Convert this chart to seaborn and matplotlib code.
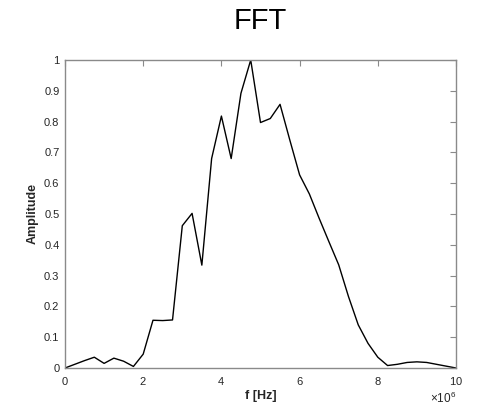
import matplotlib
matplotlib.use("Agg")
import matplotlib.pyplot as plt
import seaborn as sns
import pandas as pd
import numpy as np
from matplotlib.ticker import ScalarFormatter

freq_mhz = [0.0, 0.25, 0.5, 0.75, 1.0, 1.25, 1.5, 1.75, 2.0, 2.25, 2.5, 2.75,
            3.0, 3.25, 3.5, 3.75, 4.0, 4.25, 4.5, 4.75, 5.0, 5.25, 5.5, 5.75,
            6.0, 6.25, 6.5, 6.75, 7.0, 7.25, 7.5, 7.75, 8.0, 8.25, 8.5, 8.75,
            9.0, 9.25, 9.5, 9.75, 10.0]
amplitude = [0.0, 0.012, 0.024, 0.035, 0.015, 0.032, 0.022, 0.005, 0.045, 0.155, 0.154, 0.156,
             0.462, 0.502, 0.334, 0.68, 0.818, 0.68, 0.892, 1.0, 0.797, 0.81, 0.856, 0.74,
             0.627, 0.565, 0.486, 0.41, 0.335, 0.232, 0.14, 0.08, 0.035, 0.008, 0.012, 0.018,
             0.02, 0.018, 0.012, 0.006, 0.0]
x_ticks = [0, 2e6, 4e6, 6e6, 8e6, 10e6]
y_ticks = [0, 0.1, 0.2, 0.3, 0.4, 0.5, 0.6, 0.7, 0.8, 0.9, 1]
y_tick_labels = ["0", "0.1", "0.2", "0.3", "0.4", "0.5", "0.6", "0.7", "0.8", "0.9", "1"]

df = pd.DataFrame({"f": np.array(freq_mhz) * 1e6, "A": amplitude})

sns.set_style("white")
plt.rcParams["font.family"] = ["Liberation Sans", "DejaVu Sans"]
plt.rcParams["mathtext.fontset"] = "custom"
plt.rcParams["mathtext.rm"] = "Liberation Sans"
plt.rcParams["mathtext.it"] = "Liberation Sans"

fig = plt.figure(figsize=(4.79, 4.08), dpi=100)
ax = fig.add_axes([65/479, 1 - 368/408, (456-65)/479, (368-60)/408])
sns.lineplot(data=df, x="f", y="A", ax=ax, color="black", linewidth=1.0)

ax.set_xlim(0, 10e6)
ax.set_ylim(0, 1)
ax.set_xticks(x_ticks)
ax.set_yticks(y_ticks)
ax.set_yticklabels(y_tick_labels)
fmt = ScalarFormatter(useMathText=True)
fmt.set_powerlimits((6, 6))
ax.xaxis.set_major_formatter(fmt)

tc = "#262626"
for s in ax.spines.values():
    s.set_color("#8a8a8a")
    s.set_linewidth(1.0)
ax.tick_params(direction="in", length=4, width=0.8, colors="#8a8a8a",
               labelcolor=tc, labelsize=8, top=True, right=True)
ax.tick_params(axis="x", pad=5)
ax.tick_params(axis="y", pad=4)
ax.xaxis.get_offset_text().set_fontsize(8.5)
ax.xaxis.get_offset_text().set_color(tc)

ax.set_xlabel("f [Hz]", fontsize=9, fontweight="bold", color=tc, labelpad=2)
ax.set_ylabel("Amplitude", fontsize=9, fontweight="bold", color=tc, labelpad=4)
ax.set_title("FFT", fontsize=21, color="black", pad=22)

fig.savefig("out.png", dpi=100)
